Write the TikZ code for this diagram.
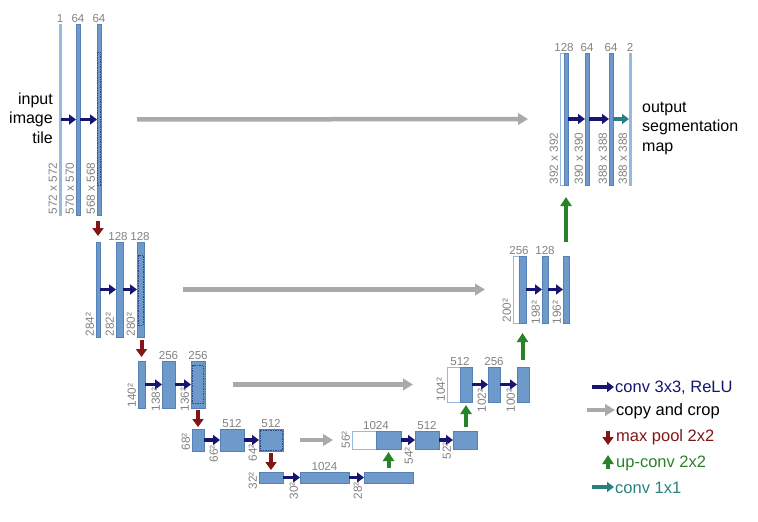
\documentclass[tikz,border=0pt]{standalone}
\usepackage{fontspec}
\setmainfont{Liberation Sans}
\usetikzlibrary{arrows.meta}
\definecolor{barfill}{RGB}{110,153,203}
\definecolor{bardraw}{RGB}{86,128,182}
\definecolor{barlight}{RGB}{150,185,225}
\definecolor{dashc}{RGB}{45,70,140}
\definecolor{convc}{RGB}{22,22,112}
\definecolor{copyc}{RGB}{170,170,170}
\definecolor{poolc}{RGB}{130,22,22}
\definecolor{upc}{RGB}{40,130,40}
\definecolor{onec}{RGB}{40,128,128}
\definecolor{labc}{RGB}{130,130,130}
\tikzset{
  bar/.style={rectangle, draw=bardraw, fill=barfill, line width=0.5pt, inner sep=0pt, outer sep=0pt},
  thinbar/.style={bar, draw=barlight, fill=barlight},
  wbar/.style={bar, draw=barlight, fill=white, line width=0.8pt},
  dashbox/.style={draw=dashc, line width=0.8pt, dash pattern=on 1.5pt off 1pt},
  conv/.style={draw=convc, line width=3.6pt, -{Triangle[length=7pt,width=10pt]}},
  oneconv/.style={draw=onec, line width=3.6pt, -{Triangle[length=7pt,width=10pt]}},
  copyarr/.style={draw=copyc, line width=4.5pt, -{Triangle[length=10pt,width=11.5pt]}},
  pool/.style={draw=poolc, line width=4pt, -{Triangle[length=8pt,width=11pt]}},
  upconv/.style={draw=upc, line width=4pt, -{Triangle[length=9pt,width=11pt]}},
  chlab/.style={font=\fontsize{11.6}{14}\selectfont, text=labc, inner sep=1pt, anchor=south},
  dimlab/.style={font=\fontsize{11.8}{14}\selectfont, text=labc, inner sep=0.5pt, rotate=90, anchor=south west},
  bigtxt/.style={font=\fontsize{16}{19.5}\selectfont, inner sep=0pt},
  legtxt/.style={font=\fontsize{16.5}{19}\selectfont, anchor=west, inner sep=1pt},
}
\newcommand\ubar[6][bar]{\node[#1, minimum width={(#4-#3)*1pt}, minimum height={(#6-#5)*1pt}] (#2) at ({(#3+#4)/2},{(#5+#6)/2}) {};}
\newcommand\dimlabel[4]{\node[dimlab] (#1) at ([xshift=-1.3pt,yshift=-#3pt]#2.south west) {#4};}
\begin{document}
\begin{tikzpicture}[x=1pt,y=-1pt]
\useasboundingbox (0,0) rectangle (758,522);
% ---------- bars
\ubar[thinbar]{L1a}{59}{61}{24}{215}
\ubar{L1b}{76}{80}{24}{215}
\ubar{L1c}{97}{101}{24}{215}
\ubar{L2a}{96}{100}{242}{337}
\ubar{L2b}{116}{123}{242}{337}
\ubar{L2c}{137}{144}{242}{337}
\ubar{L3a}{138}{145}{361}{408}
\ubar{L3b}{162}{175}{361}{408}
\ubar{L3c}{191}{205}{361}{408}
\ubar{L4a}{192}{204}{429}{451}
\ubar{L4b}{220}{244}{429}{451}
\ubar{L4c}{259}{283}{429}{451}
\ubar{L5a}{259}{283}{472}{483}
\ubar{L5b}{300}{349}{472}{483}
\ubar{L5c}{364}{413}{472}{483}
\ubar[wbar]{R4w}{352}{376}{431}{449}
\ubar{R4a}{376}{401}{431}{449}
\ubar{R4b}{415}{439}{431}{449}
\ubar{R4c}{453}{477}{431}{449}
\ubar[wbar]{R3w}{447}{460}{367}{402}
\ubar{R3a}{460}{472}{367}{402}
\ubar{R3b}{488}{500}{367}{402}
\ubar{R3c}{517}{529}{367}{402}
\ubar[wbar]{R2w}{513}{519}{256}{323}
\ubar{R2a}{519}{526}{256}{323}
\ubar{R2b}{542}{548}{256}{323}
\ubar{R2c}{563}{569}{256}{323}
\ubar[wbar]{R1w}{560}{564}{53}{185}
\ubar{R1a}{564}{568}{53}{185}
\ubar{R1b}{585}{589}{53}{185}
\ubar{R1c}{609}{613}{53}{185}
\ubar[thinbar]{R1d}{629}{631}{53}{185}
% ---------- dashed crop regions
\draw[dashbox] (97.8,52) rectangle (100.2,185);
\draw[dashbox] (138,255) rectangle (143,325);
\draw[dashbox] (192.5,365) rectangle (203.5,403);
\draw[dashbox] (260,430) rectangle (282,450);
% ---------- conv 3x3 arrows
\draw[conv] (L1a) -- (L1b); \draw[conv] (L1b) -- (L1c);
\draw[conv] (L2a) -- (L2b); \draw[conv] (L2b) -- (L2c);
\draw[conv] (L3a) -- (L3b); \draw[conv] (L3b) -- (L3c);
\draw[conv] (L4a) -- (L4b); \draw[conv] (L4b) -- (L4c);
\draw[conv] (L5a) -- (L5b); \draw[conv] (L5b) -- (L5c);
\draw[conv] (R4a) -- (R4b); \draw[conv] (R4b) -- (R4c);
\draw[conv] (R3a) -- (R3b); \draw[conv] (R3b) -- (R3c);
\draw[conv] (R2a) -- (R2b); \draw[conv] (R2b) -- (R2c);
\draw[conv] (R1a) -- (R1b); \draw[conv] (R1b) -- (R1c);
\draw[oneconv] (R1c) -- (R1d);
% ---------- copy and crop
\draw[copyarr, shorten <=36pt, shorten >=32pt] (L1c) -- (R1w);
\draw[copyarr, shorten <=39pt, shorten >=28pt] (L2c) -- (R2w);
\draw[copyarr, shorten <=28pt, shorten >=34pt] (L3c) -- (R3w);
\draw[copyarr, shorten <=17pt, shorten >=19pt] (L4c) -- (R4w);
% ---------- max pool
\draw[pool, shorten <=6pt, shorten >=6pt] (L2a.north |- L1c.south) -- (L2a.north);
\draw[pool, shorten <=3pt, shorten >=4pt] (L3a.north |- L2c.south) -- (L3a.north);
\draw[pool, shorten <=2pt, shorten >=2pt] (L4a.north |- L3c.south) -- (L4a.north);
\draw[pool, shorten <=2pt, shorten >=2pt] (L5a.north |- L4c.south) -- (L5a.north);
% ---------- up-conv
\draw[upconv, shorten <=4pt, shorten >=3pt] (R4a.south |- L5c.north) -- (R4a.south);
\draw[upconv, shorten <=4pt, shorten >=3pt] (R3a.south |- R4c.north) -- (R3a.south);
\draw[upconv, shorten <=7pt, shorten >=10pt] (R2a.south |- R3c.north) -- (R2a.south);
\draw[upconv, shorten <=14pt, shorten >=12pt] (R1a.south |- R2c.north) -- (R1a.south);
% ---------- channel labels
\node[chlab] (c1a) at (L1a.north) {1};
\node[chlab] (c1b) at (L1b.north) {64};
\node[chlab] (c1c) at (L1c.north) {64};
\node[chlab] (c2b) at ([xshift=-1.5pt]L2b.north) {128};
\node[chlab] (c2c) at ([xshift=-0.5pt]L2c.north) {128};
\node[chlab] (c3b) at (L3b.north) {256};
\node[chlab] (c3c) at (L3c.north) {256};
\node[chlab] (c4b) at (L4b.north) {512};
\node[chlab] (c4c) at (L4c.north) {512};
\node[chlab] (c5b) at (L5b.north) {1024};
\node[chlab] (cr4w) at (R4w.north east) {1024};
\node[chlab] (cr4b) at (R4b.north) {512};
\node[chlab] (cr3w) at (R3w.north east) {512};
\node[chlab] (cr3b) at (R3b.north) {256};
\node[chlab] (cr2w) at (R2w.north east) {256};
\node[chlab] (cr2b) at (R2b.north) {128};
\node[chlab] (cr1w) at (R1w.north east) {128};
\node[chlab] (cr1b) at (R1b.north) {64};
\node[chlab] (cr1c) at (R1c.north) {64};
\node[chlab] (cr1d) at (R1d.north) {2};
% ---------- size labels
\dimlabel{d1a}{L1a}{0}{572 x 572}
\dimlabel{d1b}{L1b}{0}{570 x 570}
\dimlabel{d1c}{L1c}{0}{568 x 568}
\dimlabel{d2a}{L2a}{0}{284²}
\dimlabel{d2b}{L2b}{0}{282²}
\dimlabel{d2c}{L2c}{0}{280²}
\dimlabel{d3a}{L3a}{0}{140²}
\dimlabel{d3b}{L3b}{4}{138²}
\dimlabel{d3c}{L3c}{4}{136²}
\dimlabel{d4a}{L4a}{0}{68²}
\dimlabel{d4b}{L4b}{12}{66²}
\dimlabel{d4c}{L4c}{11}{64²}
\dimlabel{d5a}{L5a}{7}{32²}
\dimlabel{d5b}{L5b}{17}{30²}
\dimlabel{d5c}{L5c}{17}{28²}
\dimlabel{dr4w}{R4w}{0}{56²}
\dimlabel{dr4b}{R4b}{16}{54²}
\dimlabel{dr4c}{R4c}{11}{52²}
\dimlabel{dr3w}{R3w}{0}{104²}
\dimlabel{dr3b}{R3b}{11}{102²}
\dimlabel{dr3c}{R3c}{11}{100²}
\dimlabel{dr2w}{R2w}{0}{200²}
\dimlabel{dr2b}{R2b}{2}{198²}
\dimlabel{dr2c}{R2c}{2}{196²}
\dimlabel{dr1w}{R1w}{0}{392 x 392}
\dimlabel{dr1b}{R1b}{0}{390 x 390}
\dimlabel{dr1c}{R1c}{0}{388 x 388}
\dimlabel{dr1d}{R1d}{0}{388 x 388}
% ---------- texts
\node[bigtxt, align=right, anchor=east] (inp) at (53,118) {input\\image\\tile};
\node[bigtxt, align=left, anchor=west] (outp) at (642,128) {output\\segmentation\\map};
% ---------- legend
\coordinate (lc1) at (592,387);
\node[legtxt, text=convc] (lg1) at (614,388) {conv 3x3, ReLU};
\draw[conv] (lc1) -- (lc1 -| lg1.west);
\coordinate (lc2) at (587,410);
\node[legtxt, text=black] (lg2) at (615,411) {copy and crop};
\draw[copyarr] (lc2) -- (lc2 -| lg2.west);
\coordinate (lc3) at (608,431);
\node[legtxt, text=poolc] (lg3) at (615,437) {max pool 2x2};
\draw[pool] (lc3) -- ++(0,14);
\coordinate (lc4) at (608,469);
\node[legtxt, text=upc] (lg4) at (615,463) {up-conv 2x2};
\draw[upconv] (lc4) -- ++(0,-14);
\coordinate (lc5) at (592,487);
\node[legtxt, text=onec] (lg5) at (614,488) {conv 1x1};
\draw[oneconv] (lc5) -- (lc5 -| lg5.west);
\end{tikzpicture}
\end{document}
